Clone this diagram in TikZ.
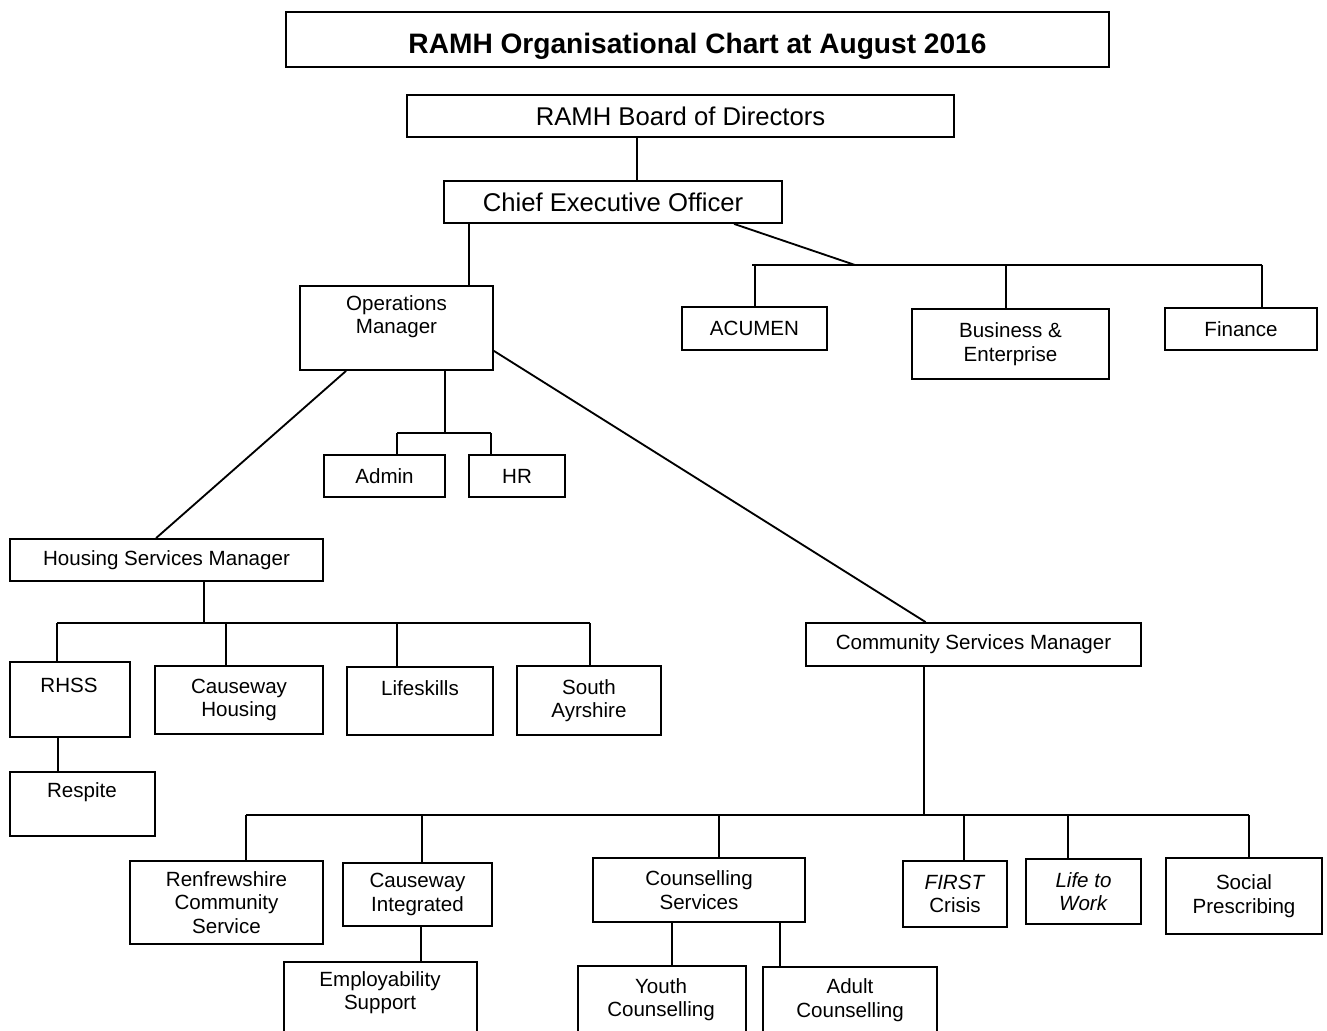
\documentclass[tikz,border=0pt]{standalone}
\usepackage{fontspec}
\setmainfont{Liberation Sans}
\usepackage{tikz}
\usetikzlibrary{positioning,calc}

\begin{document}
\begin{tikzpicture}[line width=1.05pt,
  box/.style={draw, align=center, inner sep=2pt, font=\fontsize{11.7}{13.3}\selectfont},
  txt/.style={align=center, inner sep=0pt, font=\fontsize{11.7}{13.3}\selectfont}]
  \useasboundingbox (0, 0) rectangle (26.54, 20.6);
  \clip (0, 0) rectangle (26.54, 20.6);

  % Title, board and CEO
  \node[box, minimum width=16.46cm, minimum height=1.1cm] (title) at (13.95, 19.81) {};
  \node[txt, font=\bfseries\fontsize{16}{19}\selectfont] (title-t) at (13.95, 19.67) {RAMH Organisational Chart at August 2016};
  \node[box, minimum width=10.94cm, minimum height=0.84cm, font=\fontsize{14.6}{17}\selectfont] (board) at (13.61, 18.28) {RAMH Board of Directors};
  \node[box, minimum width=6.76cm, minimum height=0.84cm, font=\fontsize{14.6}{17}\selectfont] (ceo) at (12.26, 16.56) {Chief Executive Officer};
  \coordinate (board-c) at ([xshift=4.62cm]board.south west);
  \draw (board-c) -- (board-c |- ceo.north);

  % Central services
  \node[box, minimum width=2.9cm, minimum height=0.86cm] (acumen) at (15.09, 14.03) {ACUMEN};
  \node[box, minimum width=3.94cm, minimum height=1.4cm] (busi) at (20.21, 13.72) {Business \&\\Enterprise};
  \node[box, minimum width=3.04cm, minimum height=0.84cm] (fin) at (24.82, 14.02) {Finance};
  \coordinate (ceo-r) at ([xshift=5.82cm]ceo.south west);
  \coordinate (cbar) at (17.1, 15.3);
  \draw (ceo-r) -- (cbar);
  \draw (15.04, 15.3) -- (25.24, 15.3);
  \foreach \n/\x in {acumen/15.1, busi/20.12, fin/25.24}
    \draw (\x, 15.3) -- (\x, 15.3 |- \n.north);

  % Operations Manager
  \node[box, minimum width=3.86cm, minimum height=1.68cm] (ops) at (7.93, 14.04) {};
  \node[txt] (ops-t) at (7.93, 14.27) {Operations\\Manager};
  \coordinate (ceo-o) at ([xshift=0.52cm]ceo.south west);
  \draw (ceo-o) -- (ceo-o |- ops.north);

  % Admin and HR
  \node[box, minimum width=2.42cm, minimum height=0.84cm] (admin) at (7.69, 11.08) {Admin};
  \node[box, minimum width=1.92cm, minimum height=0.84cm] (hr) at (10.34, 11.08) {HR};
  \coordinate (abar) at (8.9, 11.94);
  \draw (ops.south -| abar) -- (abar);
  \draw (7.94, 11.94) -- (9.82, 11.94);
  \foreach \n/\x in {admin/7.94, hr/9.82}
    \draw (\x, 11.94) -- (\x, 11.94 |- \n.north);

  % Housing
  \node[box, minimum width=6.26cm, minimum height=0.84cm] (hsm) at (3.33, 9.4) {Housing Services Manager};
  \node[box, minimum width=2.4cm, minimum height=1.5cm] (rhss) at (1.4, 6.61) {};
  \node[txt] (rhss-t) at (1.38, 6.9) {RHSS};
  \node[box, minimum width=3.36cm, minimum height=1.36cm] (chs) at (4.78, 6.6) {Causeway\\Housing};
  \node[box, minimum width=2.92cm, minimum height=1.36cm] (life) at (8.4, 6.58) {};
  \node[txt] (life-t) at (8.4, 6.84) {Lifeskills};
  \node[box, minimum width=2.88cm, minimum height=1.38cm] (sayr) at (11.78, 6.59) {South\\Ayrshire};
  \node[box, minimum width=2.9cm, minimum height=1.28cm] (resp) at (1.65, 4.52) {};
  \node[txt] (resp-t) at (1.64, 4.76) {Respite};
  \draw ([xshift=0.94cm]ops.south west) -- ([xshift=2.94cm]hsm.north west);
  \coordinate (hbar) at (4.08, 8.14);
  \draw (hsm.south -| hbar) -- (hbar);
  \draw (1.14, 8.14) -- (11.8, 8.14);
  \foreach \n/\x in {rhss/1.14, chs/4.52, life/7.94, sayr/11.8}
    \draw (\x, 8.14) -- (\x, 8.14 |- \n.north);
  \draw (rhss.south -| 1.16, 0) -- (resp.north -| 1.16, 0);

  % Community
  \node[box, minimum width=6.7cm, minimum height=0.86cm] (csm) at (19.47, 7.71) {Community Services Manager};
  \draw ([yshift=0.4cm]ops.south east) -- ([xshift=2.41cm]csm.north west);
  \node[box, minimum width=3.86cm, minimum height=1.66cm] (renf) at (4.53, 2.55) {Renfrewshire\\Community\\Service};
  \node[box, minimum width=2.98cm, minimum height=1.26cm] (cint) at (8.35, 2.71) {Causeway\\Integrated};
  \node[box, minimum width=4.24cm, minimum height=1.28cm] (couns) at (13.98, 2.8) {Counselling\\Services};
  \node[box, minimum width=2.08cm, minimum height=1.32cm] (first) at (19.1, 2.72) {\textit{FIRST}\\Crisis};
  \node[box, minimum width=2.3cm, minimum height=1.3cm] (l2w) at (21.67, 2.77) {\textit{Life to}\\\textit{Work}};
  \node[box, minimum width=3.12cm, minimum height=1.52cm] (soc) at (24.88, 2.68) {Social\\Prescribing};
  \coordinate (cbar2) at (18.48, 4.3);
  \draw (csm.south -| cbar2) -- (cbar2);
  \draw (4.92, 4.3) -- (24.98, 4.3);
  \foreach \n/\x in {renf/4.92, cint/8.44, couns/14.38, first/19.28, l2w/21.36, soc/24.98}
    \draw (\x, 4.3) -- (\x, 4.3 |- \n.north);

  % Third level, cut off at the page edge
  \node[box, anchor=north, minimum width=3.86cm, minimum height=2cm] (emp) at (7.61, 1.38) {};
  \node[txt] (emp-t) at (7.6, 0.75) {Employability\\Support};
  \node[box, anchor=north, minimum width=3.36cm, minimum height=2cm] (youth) at (13.24, 1.3) {};
  \node[txt] (youth-t) at (13.22, 0.61) {Youth\\Counselling};
  \node[box, anchor=north, minimum width=3.48cm, minimum height=2cm] (adult) at (17.0, 1.28) {};
  \node[txt] (adult-t) at (17.0, 0.6) {Adult\\Counselling};
  \draw (cint.south -| 8.42, 0) -- (emp.north -| 8.42, 0);
  \draw (couns.south -| 13.44, 0) -- (youth.north -| 13.44, 0);
  \draw (couns.south -| 15.6, 0) -- (adult.north -| 15.6, 0);
\end{tikzpicture}
\end{document}
